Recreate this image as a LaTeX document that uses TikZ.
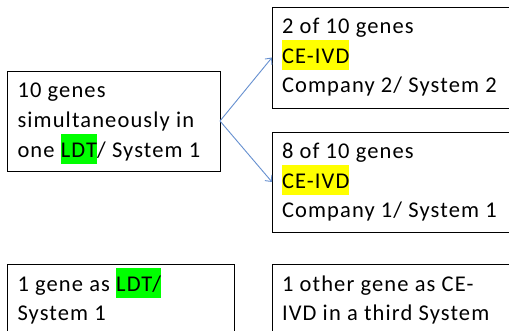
\documentclass[tikz,border=0pt]{standalone}
\usepackage{fontspec}
\setmainfont{Carlito}[LetterSpace=5.0]
\usetikzlibrary{arrows.meta}
\definecolor{hlgreen}{HTML}{00FF00}
\definecolor{hlyellow}{HTML}{FFFF00}
\definecolor{conn}{HTML}{6690D0}
\newcommand{\hlg}[1]{{\setlength{\fboxsep}{0pt}\colorbox{hlgreen}{\rule[-7pt]{0pt}{30pt}#1}}}
\newcommand{\hly}[1]{{\setlength{\fboxsep}{0pt}\colorbox{hlyellow}{\rule[-7pt]{0pt}{30pt}#1}}}
\tikzset{
  box/.style={draw=black, line width=0.9pt, inner sep=0pt, outer sep=0pt, anchor=north west},
  txt/.style={anchor=base west, inner sep=0pt, outer sep=0pt, font=\fontsize{22.5}{29.5}\selectfont},
  conn/.style={draw=conn, line width=0.9pt, -{Straight Barb[length=5pt,width=9pt,line width=0.9pt]}}
}
\begin{document}
\begin{tikzpicture}[x=1pt,y=-1pt]
\useasboundingbox (0,0) rectangle (509,331);
\clip (0,0) rectangle (509,331);
\fill[white] (0,0) rectangle (509,331);
% boxes
\node[box, minimum width=212.5pt, minimum height=100pt] (A) at (7.5,71) {};
\node[box, minimum width=260pt, minimum height=101pt] (B) at (272,7) {};
\node[box, minimum width=260pt, minimum height=100pt] (C) at (272,132) {};
\node[box, minimum width=226.5pt, minimum height=100pt] (D) at (7.5,264) {};
\node[box, minimum width=260pt, minimum height=100pt] (E) at (272,264) {};
% texts
\node[txt] (a1) at (17.5,97.7) {10 genes};
\node[txt] (a2) at (17.5,127.5) {simultaneously in};
\node[txt] (a3) at (17.5,157.3) {one \hlg{LDT}/ System 1};
\node[txt] (b1) at (282,34) {2 of 10 genes};
\node[txt] (b2) at (282,63.5) {\hly{CE-IVD}};
\node[txt] (b3) at (282,93) {Company 2/ System 2};
\node[txt] (c1) at (282,159) {8 of 10 genes};
\node[txt] (c2) at (282,188.5) {\hly{CE-IVD}};
\node[txt] (c3) at (282,218) {Company 1/ System 1};
\node[txt] (d1) at (17.5,291) {1 gene as \hlg{LDT/}};
\node[txt] (d2) at (17.5,320) {System 1};
\node[txt] (e1) at (282,291) {1 other gene as CE-};
\node[txt] (e2) at (282,320) {IVD in a third System};
% connectors
\draw[conn] (A.east) -- (B.west);
\draw[conn] (A.east) -- (C.west);
\end{tikzpicture}
\end{document}
